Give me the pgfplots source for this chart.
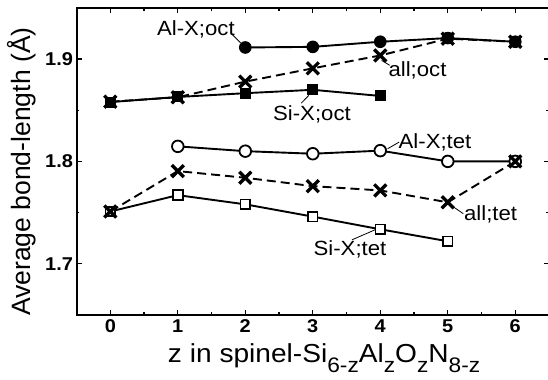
\documentclass[border=0pt]{standalone}
\usepackage{fontspec}
\setmainfont{Liberation Sans}[FakeStretch=1.08]
\newfontfamily\ylabfont{Liberation Sans}
\usepackage{pgfplots}
\pgfplotsset{compat=1.18}
\newcommand{\sub}[1]{\raisebox{-0.42em}{\fontsize{21}{23}\selectfont #1}}
\begin{document}
\begin{tikzpicture}
\begin{axis}[
  at={(76.5pt,64.5pt)}, anchor=south west,
  scale only axis, width=472pt, height=306.5pt,
  xmin=-0.5, xmax=6.5, ymin=1.65, ymax=1.95,
  xtick={0,...,6}, minor xtick={0.5,1.5,...,5.5},
  ytick={1.7,1.8,1.9}, minor ytick={1.75,1.85},
  tick align=inside,
  major tick length=5pt, minor tick length=2.5pt,
  every tick/.style={line width=1.3pt, black},
  axis line style={line width=1.9pt},
  /pgf/number format/assume math mode=true,
  /pgf/number format/fixed, /pgf/number format/precision=1,
  tick label style={font=\fontsize{18.5}{20}\selectfont\bfseries},
  xticklabel style={yshift=-1pt},
  yticklabel style={xshift=0pt},
  xlabel={z in spinel-Si\sub{6-z}Al\sub{z}O\sub{z}N\sub{8-z}},
  xlabel style={at={(axis description cs:0.524,-0.154)}, anchor=base, font=\fontsize{26}{28}\selectfont},
  ylabel={\ylabfont Average bond-length (Å)},
  ylabel style={at={(axis description cs:-0.1155,0.4666)}, anchor=center, font=\fontsize{26.5}{28}\selectfont},
  clip=false,
]
% Al-X;oct
\addplot[line width=1.9pt, mark=*, mark size=5.8pt, mark options={line width=1pt}] coordinates {(2,1.9114)(3,1.912)(4,1.917)(5,1.9206)(6,1.917)};
% Si-X;oct
\addplot[line width=1.9pt, mark=square*, mark size=5pt, mark options={line width=1pt}] coordinates {(0,1.858)(1,1.863)(2,1.8667)(3,1.870)(4,1.864)};
% all;oct
\addplot[line width=1.9pt, dash pattern=on 9pt off 5pt, mark=x, mark size=8.5pt, mark options={solid, line width=3.3pt}] coordinates {(0,1.8584)(1,1.8627)(2,1.878)(3,1.891)(4,1.9036)(5,1.920)(6,1.917)};
% Al-X;tet
\addplot[line width=1.9pt, mark=*, mark size=5.8pt, mark options={fill=white, draw=black, line width=1.8pt}] coordinates {(1,1.8147)(2,1.810)(3,1.8075)(4,1.8105)(5,1.800)(6,1.800)};
% Si-X;tet
\addplot[line width=1.9pt, mark=square*, mark size=4.8pt, mark options={fill=white, draw=black, line width=1.8pt}] coordinates {(0,1.751)(1,1.767)(2,1.758)(3,1.746)(4,1.7336)(5,1.7219)};
% all;tet
\addplot[line width=1.9pt, dash pattern=on 9pt off 5pt, mark=x, mark size=8.5pt, mark options={solid, line width=3.3pt}] coordinates {(0,1.751)(1,1.7905)(2,1.784)(3,1.7758)(4,1.7716)(5,1.760)(6,1.800)};

\begin{scope}[every node/.style={font=\fontsize{20.5}{22}\selectfont, inner sep=0pt}]
\node[anchor=base west] at (axis cs:0.69,1.9232) {Al-X;oct};
\draw[line width=0.8pt] (axis cs:1.80,1.9245) -- (axis cs:1.93,1.916);
\node[anchor=base west] at (axis cs:4.12,1.8831) {all;oct};
\draw[line width=0.8pt] (axis cs:4.02,1.8987) -- (axis cs:4.14,1.894);
\node[anchor=base west] at (axis cs:2.41,1.840) {Si-X;oct};
\draw[line width=0.8pt] (axis cs:2.83,1.857) -- (axis cs:2.94,1.8645);
\node[anchor=base west] at (axis cs:4.27,1.8124) {Al-X;tet};
\draw[line width=0.8pt] (axis cs:4.11,1.8124) -- (axis cs:4.28,1.8189);
\node[anchor=base west] at (axis cs:5.24,1.7423) {all;tet};
\draw[line width=0.8pt] (axis cs:5.05,1.757) -- (axis cs:5.23,1.7489);
\node[anchor=base west] at (axis cs:3.01,1.7081) {Si-X;tet};
\draw[line width=0.8pt] (axis cs:3.58,1.7233) -- (axis cs:3.94,1.7336);
\end{scope}
\end{axis}
\pgfresetboundingbox
\useasboundingbox (0,0) rectangle (547.5pt,379pt);
\end{tikzpicture}
\end{document}
